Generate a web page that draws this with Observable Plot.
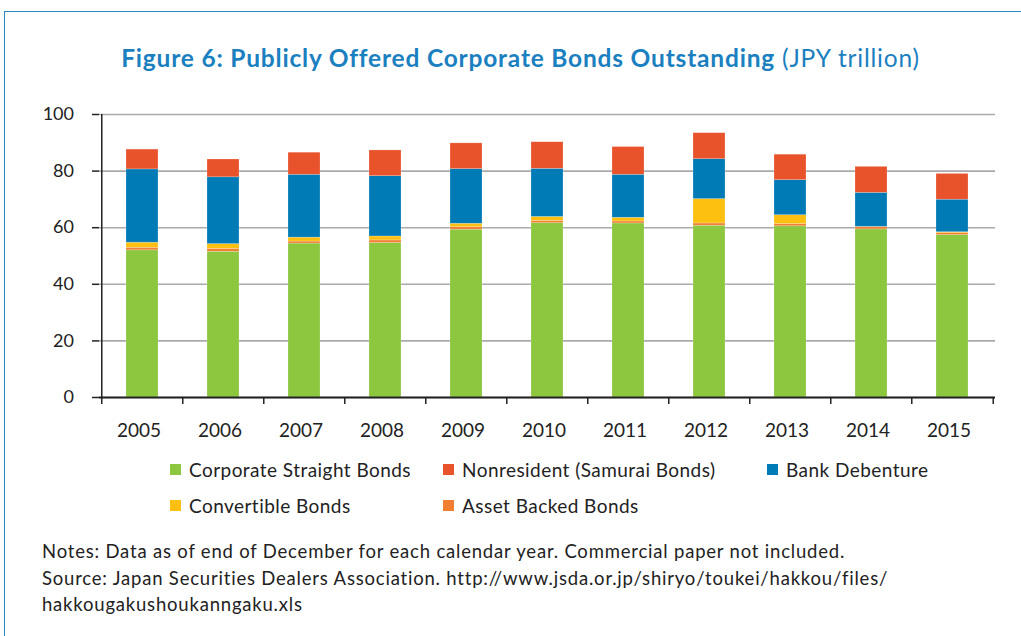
<!DOCTYPE html>
<html>
<head>
<meta charset="utf-8">
<script src="https://cdn.jsdelivr.net/npm/d3@7"></script>
<script src="https://cdn.jsdelivr.net/npm/@observablehq/plot@0.6"></script>
<style>
  body { margin: 0; background: #fff; }
  #page { position: relative; width: 1021px; height: 636px; overflow: hidden; font-family: Lato, "Open Sans", sans-serif; color: #222; }
  #frame { position: absolute; left: 4px; top: 11px; width: 1100px; height: 700px; border: 1.5px solid #2a86c4; box-sizing: border-box; }
  #title { position: absolute; left: 0; width: 1041px; top: 43px; text-align: center; font-size: 24.5px; letter-spacing: 0.8px; color: #1a80c0; white-space: nowrap; }
  #title b { font-weight: 700; }
  #chart { position: absolute; left: 0; top: 90px; }
  .leg { position: absolute; font-size: 19px; letter-spacing: 0.45px; white-space: nowrap; display: flex; align-items: center; }
  .sw { width: 11px; height: 11px; margin-right: 8px; display: inline-block; }
  #notes { position: absolute; left: 42px; top: 538px; font-size: 18.5px; letter-spacing: 0.8px; line-height: 26.5px; white-space: nowrap; }
</style>
</head>
<body>
<div id="page">
  <div id="frame"></div>
  <div id="title"><b>Figure 6: Publicly Offered Corporate Bonds Outstanding</b> (JPY trillion)</div>
  <div id="chart"></div>
  <div id="legend"></div>
  <div id="notes">Notes: Data as of end of December for each calendar year. Commercial paper not included.<br>Source: Japan Securities Dealers Association. http://www.jsda.or.jp/shiryo/toukei/hakkou/files/<br>hakkougakushoukanngaku.xls</div>
</div>
<script>
const years = ["2005","2006","2007","2008","2009","2010","2011","2012","2013","2014","2015"];
const seriesNames = ["Corporate Straight Bonds","Asset Backed Bonds","Convertible Bonds","Bank Debenture","Nonresident (Samurai Bonds)"];
const corporateStraight = [52.0, 51.5, 54.4, 54.6, 59.3, 61.6, 61.5, 60.7, 60.5, 59.4, 57.4];
const assetBacked       = [0.9, 1.0, 0.7, 0.9, 0.9, 0.8, 0.7, 0.8, 0.8, 0.8, 0.7];
const convertible       = [1.8, 1.7, 1.4, 1.4, 1.2, 1.4, 1.3, 8.6, 3.1, 0.1, 0.3];
const bankDebenture     = [25.9, 23.6, 22.2, 21.3, 19.3, 17.0, 15.2, 14.1, 12.4, 12.0, 11.5];
const nonresident       = [7.0, 6.3, 7.8, 9.1, 9.1, 9.4, 9.8, 9.2, 9.0, 9.2, 9.1];
const seriesColors = ["#8dc63f", "#f07f32", "#fdc010", "#007bb6", "#e8532b"];
const yTicks = [0, 20, 40, 60, 80, 100];

const valuesBySeries = [corporateStraight, assetBacked, convertible, bankDebenture, nonresident];
const data = [];
seriesNames.forEach((s, i) => years.forEach((y, j) => data.push({year: y, series: s, value: valuesBySeries[i][j]})));

const width = 1021, ml = 99, mr = 26;
const step = (width - ml - mr) / years.length;

const plot = Plot.plot({
  width, height: 350,
  marginLeft: ml, marginRight: mr, marginTop: 24, marginBottom: 43,
  style: {fontFamily: "Lato, 'Open Sans', sans-serif", fontSize: "18px", color: "#222", background: "transparent"},
  x: {domain: years, paddingInner: 0.6, paddingOuter: 0.3, label: null},
  y: {domain: [0, 100], label: null},
  color: {domain: seriesNames, range: seriesColors},
  marks: [
    Plot.gridY(yTicks, {stroke: "#aaa", strokeOpacity: 1, strokeWidth: 1.6}),
    Plot.barY(data, {x: "year", y: "value", fill: "series", order: seriesNames, stroke: "#fff", strokeOpacity: 0.35, strokeWidth: 0.6}),
    Plot.ruleY([0], {stroke: "#222", strokeWidth: 2}),
    Plot.ruleX(years, {x: d => d, y1: 0, y2: -2.5, dx: -step / 2, stroke: "#222", strokeWidth: 1.5}),
    Plot.ruleX([years[years.length - 1]], {x: d => d, y1: 0, y2: -2.5, dx: step / 2, stroke: "#222", strokeWidth: 1.5}),
    Plot.ruleX([years[0]], {x: d => d, y1: 0, y2: 100, dx: -step / 2, stroke: "#222", strokeWidth: 1.5}),
    Plot.axisY(yTicks, {tickSize: 7, tickPadding: 18.5, stroke: "#222", strokeWidth: 1.5, fontSize: 18}),
    Plot.axisX(years, {tickSize: 0, tickPadding: 26, dx: -3.5, fontSize: 19})
  ]
});
document.getElementById("chart").appendChild(plot);

const legendItems = [
  {name: "Corporate Straight Bonds", left: 170, top: 469},
  {name: "Nonresident (Samurai Bonds)", left: 443, top: 469},
  {name: "Bank Debenture", left: 767, top: 469},
  {name: "Convertible Bonds", left: 170, top: 505},
  {name: "Asset Backed Bonds", left: 443, top: 505}
];
const leg = document.getElementById("legend");
legendItems.forEach(it => {
  const d = document.createElement("div");
  d.className = "leg";
  d.style.left = it.left + "px";
  d.style.top = (it.top - 12) + "px";
  d.style.height = "24px";
  const sw = document.createElement("span");
  sw.className = "sw";
  sw.style.background = seriesColors[seriesNames.indexOf(it.name)];
  d.appendChild(sw);
  d.appendChild(document.createTextNode(it.name));
  leg.appendChild(d);
});
</script>
</body>
</html>
